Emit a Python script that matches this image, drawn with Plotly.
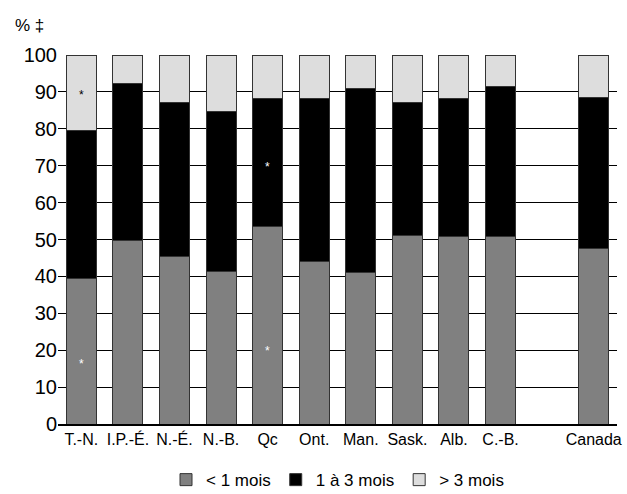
import plotly.graph_objects as go

categories = ["T.-N.", "I.P.-É.", "N.-É.", "N.-B.", "Qc", "Ont.", "Man.", "Sask.", "Alb.", "C.-B.", " ", "Canada"]
lt1 = [39.4, 49.7, 45.5, 41.2, 53.6, 44.0, 41.0, 51.2, 50.8, 50.8, None, 47.6]
m1to3 = [40.1, 42.5, 41.6, 43.6, 34.5, 44.3, 49.9, 36.0, 37.5, 40.6, None, 40.9]
gt3 = [20.5, 7.8, 12.9, 15.2, 11.9, 11.7, 9.1, 12.8, 11.7, 8.6, None, 11.5]
series_names = ["< 1 mois", "1 à 3 mois", "> 3 mois"]
series_colors = ["#808080", "#000000", "#dddddd"]

# quality markers (category, y value, colour)
star_cats = ["T.-N.", "T.-N.", "Qc", "Qc"]
star_y = [90, 17, 70.5, 20.5]
star_col = ["#000000", "#ffffff", "#ffffff", "#ffffff"]

FONT = "Liberation Sans, Arial, sans-serif"

fig = go.Figure()
for name, vals, col in zip(series_names, [lt1, m1to3, gt3], series_colors):
    fig.add_trace(go.Bar(
        x=categories, y=vals, name=name,
        marker=dict(color=col, line=dict(color="#333333", width=1)),
    ))

for c, y, col in zip(star_cats, star_y, star_col):
    fig.add_annotation(x=c, y=y, text="*", showarrow=False,
                       font=dict(size=12, color=col, family=FONT), yshift=-3)

fig.add_annotation(xref="paper", yref="paper", x=-0.081, y=1.081, text="% ‡",
                   showarrow=False, xanchor="left", yanchor="middle",
                   font=dict(size=17, color="#000", family=FONT))

fig.update_layout(
    width=627, height=494,
    barmode="stack", bargap=0.355,
    paper_bgcolor="white", plot_bgcolor="white",
    margin=dict(l=58, r=10, t=55, b=70, autoexpand=False),
    font=dict(family=FONT, size=18, color="#000"),
    showlegend=True,
    legend=dict(orientation="h", x=0.5, xanchor="center", y=-0.152, yanchor="middle",
                font=dict(size=17), traceorder="normal", itemwidth=30,
                tracegroupgap=0),
    xaxis=dict(type="category", showgrid=False, showline=True, linecolor="#000",
               linewidth=1.5, ticks="", tickangle=0, automargin=False,
               tickfont=dict(size=16)),
    yaxis=dict(range=[0, 100], dtick=10, showgrid=True, gridcolor="#000",
               gridwidth=1, zeroline=False, showline=False, ticks="",
               automargin=False, tickfont=dict(size=20)),
)

fig.write_html("out.html", config={"displayModeBar": False},
               post_script="document.body.style.margin='0';document.body.style.overflow='hidden';")
